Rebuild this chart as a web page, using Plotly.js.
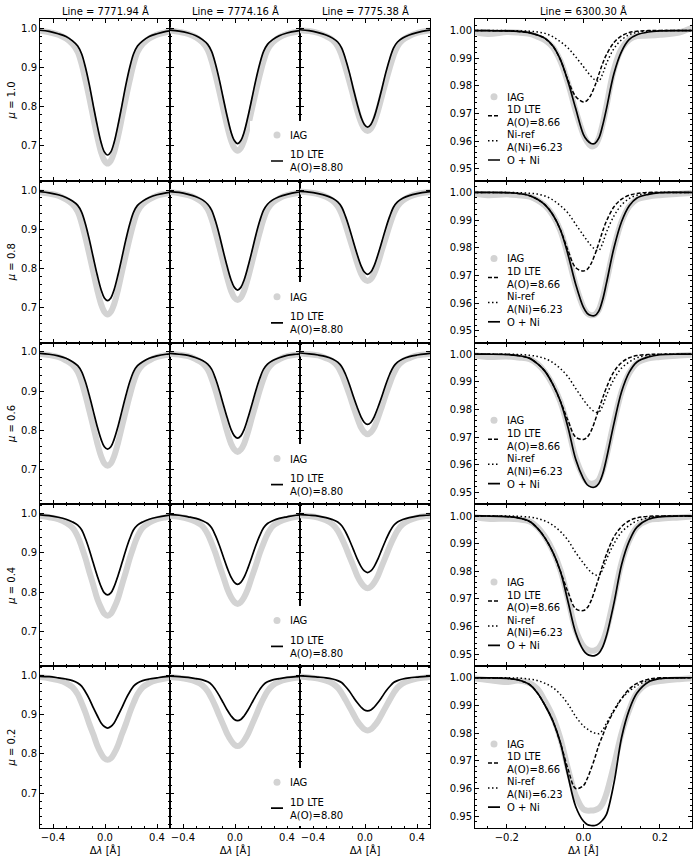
<!DOCTYPE html>
<html><head><meta charset="utf-8">
<script src="https://cdn.plot.ly/plotly-3.0.1.min.js"></script>
<style>html,body{margin:0;padding:0;background:#fff}</style>
</head><body><div id="plot" style="width:699px;height:864px"></div>
<script>
// ---------- labels ----------
const lineLabels = ['Line = 7771.94 Å', 'Line = 7774.16 Å', 'Line = 7775.38 Å', 'Line = 6300.30 Å'];
const muLabels = ['1.0', '0.8', '0.6', '0.4', '0.2'];
const xTitle = 'Δ<i>λ</i> [Å]';
const nameIAG = 'IAG';
const nameLTE88 = '1D LTE<br>A(O)=8.80';
const nameLTE866 = '1D LTE<br>A(O)=8.66';
const nameNi = 'Ni-ref<br>A(Ni)=6.23';
const nameSum = 'O + Ni';

// ---------- wavelength grids ----------
const dlamLeft = [-0.53,-0.43,-0.36,-0.30,-0.25,-0.21,-0.18,-0.15,-0.12,-0.09,-0.06,-0.03,-0.005,0.02,0.045,0.07,0.10,0.13,0.16,0.19,0.22,0.25,0.29,0.34,0.40,0.47,0.57];
const dlamRight = [-0.30,-0.25,-0.20,-0.17,-0.14,-0.12,-0.10,-0.08,-0.06,-0.04,-0.02,0.0,0.01,0.02,0.03,0.04,0.05,0.06,0.08,0.10,0.12,0.14,0.17,0.20,0.25,0.30];

// ---------- 1D LTE A(O)=8.80, O I triplet ----------
const lte_mu10_7771 = [0.996,0.992,0.986,0.979,0.968,0.955,0.935,0.900,0.855,0.803,0.753,0.709,0.685,0.677,0.685,0.709,0.753,0.803,0.855,0.900,0.935,0.955,0.968,0.979,0.986,0.992,0.996];
const lte_mu10_7774 = [0.996,0.993,0.988,0.981,0.971,0.959,0.941,0.909,0.868,0.821,0.775,0.735,0.714,0.706,0.714,0.735,0.775,0.821,0.868,0.909,0.941,0.959,0.971,0.981,0.988,0.993,0.996];
const lte_mu10_7775 = [0.997,0.994,0.989,0.983,0.975,0.965,0.950,0.922,0.887,0.846,0.807,0.773,0.755,0.748,0.755,0.773,0.807,0.846,0.887,0.922,0.950,0.965,0.975,0.983,0.989,0.994,0.997];
const lte_mu08_7771 = [0.997,0.993,0.988,0.981,0.972,0.961,0.944,0.913,0.873,0.828,0.784,0.746,0.725,0.718,0.725,0.746,0.784,0.828,0.873,0.913,0.944,0.961,0.972,0.981,0.988,0.993,0.997];
const lte_mu08_7774 = [0.997,0.994,0.989,0.983,0.975,0.964,0.949,0.921,0.885,0.844,0.805,0.771,0.752,0.745,0.752,0.771,0.805,0.844,0.885,0.921,0.949,0.964,0.975,0.983,0.989,0.994,0.997];
const lte_mu08_7775 = [0.997,0.995,0.991,0.986,0.979,0.970,0.957,0.933,0.903,0.869,0.836,0.807,0.791,0.785,0.791,0.807,0.836,0.869,0.903,0.933,0.957,0.970,0.979,0.986,0.991,0.995,0.997];
const lte_mu06_7771 = [0.997,0.994,0.990,0.984,0.975,0.965,0.950,0.923,0.888,0.849,0.810,0.777,0.758,0.752,0.758,0.777,0.810,0.849,0.888,0.923,0.950,0.965,0.975,0.984,0.990,0.994,0.997];
const lte_mu06_7774 = [0.997,0.994,0.991,0.985,0.978,0.969,0.956,0.932,0.901,0.866,0.832,0.802,0.786,0.780,0.786,0.802,0.832,0.866,0.901,0.932,0.956,0.969,0.978,0.985,0.991,0.994,0.997];
const lte_mu06_7775 = [0.998,0.995,0.992,0.988,0.982,0.974,0.963,0.943,0.917,0.887,0.859,0.834,0.820,0.815,0.820,0.834,0.859,0.887,0.917,0.943,0.963,0.974,0.982,0.988,0.992,0.995,0.998];
const lte_mu04_7771 = [0.998,0.995,0.991,0.986,0.979,0.971,0.959,0.936,0.907,0.874,0.842,0.814,0.798,0.793,0.798,0.814,0.842,0.874,0.907,0.936,0.959,0.971,0.979,0.986,0.991,0.995,0.998];
const lte_mu04_7774 = [0.998,0.996,0.992,0.988,0.982,0.975,0.964,0.944,0.919,0.890,0.862,0.838,0.825,0.820,0.825,0.838,0.862,0.890,0.919,0.944,0.964,0.975,0.982,0.988,0.992,0.996,0.998];
const lte_mu04_7775 = [0.998,0.996,0.994,0.990,0.985,0.979,0.970,0.954,0.933,0.909,0.885,0.865,0.854,0.850,0.854,0.865,0.885,0.909,0.933,0.954,0.970,0.979,0.985,0.990,0.994,0.996,0.998];
const lte_mu02_7771 = [0.998,0.997,0.994,0.991,0.987,0.981,0.973,0.958,0.940,0.918,0.898,0.879,0.870,0.866,0.870,0.879,0.898,0.918,0.940,0.958,0.973,0.981,0.987,0.991,0.994,0.997,0.998];
const lte_mu02_7774 = [0.999,0.997,0.995,0.992,0.989,0.984,0.977,0.964,0.948,0.930,0.912,0.897,0.888,0.885,0.888,0.897,0.912,0.930,0.948,0.964,0.977,0.984,0.989,0.992,0.995,0.997,0.999];
const lte_mu02_7775 = [0.999,0.998,0.996,0.994,0.991,0.987,0.982,0.972,0.960,0.945,0.931,0.919,0.912,0.910,0.912,0.919,0.931,0.945,0.960,0.972,0.982,0.987,0.991,0.994,0.996,0.998,0.999];

// ---------- IAG observed, O I triplet ----------
const iag_mu10_7771 = [0.995,0.990,0.984,0.974,0.960,0.940,0.909,0.867,0.821,0.772,0.724,0.684,0.663,0.655,0.663,0.684,0.724,0.772,0.821,0.867,0.909,0.940,0.960,0.974,0.984,0.990,0.995];
const iag_mu10_7774 = [0.996,0.991,0.986,0.977,0.964,0.945,0.917,0.880,0.838,0.794,0.750,0.714,0.695,0.688,0.695,0.714,0.750,0.794,0.838,0.880,0.917,0.945,0.964,0.977,0.986,0.991,0.996];
const iag_mu10_7775 = [0.996,0.993,0.988,0.980,0.970,0.954,0.931,0.899,0.864,0.827,0.790,0.760,0.744,0.738,0.744,0.760,0.790,0.827,0.864,0.899,0.931,0.954,0.970,0.980,0.988,0.993,0.996];
const iag_mu08_7771 = [0.996,0.991,0.986,0.976,0.964,0.945,0.916,0.878,0.835,0.791,0.746,0.709,0.690,0.683,0.690,0.709,0.746,0.791,0.835,0.878,0.916,0.945,0.964,0.976,0.986,0.991,0.996];
const iag_mu08_7774 = [0.996,0.992,0.987,0.979,0.968,0.951,0.926,0.892,0.854,0.815,0.776,0.743,0.726,0.720,0.726,0.743,0.776,0.815,0.854,0.892,0.926,0.951,0.968,0.979,0.987,0.992,0.996];
const iag_mu08_7775 = [0.997,0.994,0.990,0.983,0.973,0.959,0.939,0.911,0.879,0.847,0.814,0.787,0.773,0.768,0.773,0.787,0.814,0.847,0.879,0.911,0.939,0.959,0.973,0.983,0.990,0.994,0.997];
const iag_mu06_7771 = [0.996,0.992,0.987,0.978,0.967,0.949,0.923,0.888,0.849,0.809,0.768,0.734,0.716,0.710,0.716,0.734,0.768,0.809,0.849,0.888,0.923,0.949,0.967,0.978,0.987,0.992,0.996];
const iag_mu06_7774 = [0.996,0.993,0.989,0.981,0.971,0.955,0.932,0.902,0.867,0.832,0.796,0.766,0.751,0.745,0.751,0.766,0.796,0.832,0.867,0.902,0.932,0.955,0.971,0.981,0.989,0.993,0.996];
const iag_mu06_7775 = [0.997,0.994,0.991,0.984,0.976,0.963,0.944,0.919,0.891,0.861,0.832,0.807,0.795,0.790,0.795,0.807,0.832,0.861,0.891,0.919,0.944,0.963,0.976,0.984,0.991,0.994,0.997];
const iag_mu04_7771 = [0.996,0.991,0.986,0.977,0.964,0.942,0.916,0.886,0.851,0.818,0.784,0.760,0.745,0.740,0.745,0.760,0.784,0.818,0.851,0.886,0.916,0.942,0.964,0.977,0.986,0.991,0.996];
const iag_mu04_7774 = [0.996,0.992,0.987,0.979,0.968,0.948,0.925,0.899,0.868,0.839,0.809,0.787,0.775,0.770,0.775,0.787,0.809,0.839,0.868,0.899,0.925,0.948,0.968,0.979,0.987,0.992,0.996];
const iag_mu04_7775 = [0.997,0.994,0.990,0.983,0.973,0.957,0.938,0.916,0.891,0.867,0.842,0.824,0.814,0.810,0.814,0.824,0.842,0.867,0.891,0.916,0.938,0.957,0.973,0.983,0.990,0.994,0.997];
const iag_mu02_7771 = [0.997,0.993,0.988,0.981,0.970,0.952,0.930,0.905,0.876,0.850,0.822,0.801,0.789,0.785,0.789,0.801,0.822,0.850,0.876,0.905,0.930,0.952,0.970,0.981,0.988,0.993,0.997];
const iag_mu02_7774 = [0.997,0.994,0.990,0.984,0.975,0.960,0.942,0.921,0.897,0.874,0.851,0.834,0.824,0.820,0.824,0.834,0.851,0.874,0.897,0.921,0.942,0.960,0.975,0.984,0.990,0.994,0.997];
const iag_mu02_7775 = [0.998,0.995,0.992,0.987,0.980,0.969,0.955,0.938,0.920,0.902,0.884,0.871,0.863,0.860,0.863,0.871,0.884,0.902,0.920,0.938,0.955,0.969,0.980,0.987,0.992,0.995,0.998];

// ---------- [O I] 6300.30 ----------
const iag_mu10_6300 = [1.0,0.9988,0.9995,0.9993,0.9988,0.9978,0.9965,0.994,0.989,0.981,0.971,0.9625,0.9598,0.9582,0.9585,0.961,0.966,0.9725,0.986,0.9935,0.9968,0.998,0.9982,0.9985,0.9993,1.002];
const iag_mu08_6300 = [1.0,0.999,0.9993,0.999,0.9985,0.9972,0.9952,0.9918,0.9862,0.977,0.9665,0.9585,0.9563,0.9556,0.9558,0.9575,0.9615,0.9675,0.980,0.9895,0.995,0.9975,0.9985,0.999,0.9995,1.0];
const iag_mu06_6300 = [1.0,0.999,0.9992,0.9988,0.9982,0.9965,0.9935,0.989,0.9828,0.9735,0.9625,0.9558,0.9538,0.9532,0.9534,0.9545,0.9578,0.963,0.9755,0.9865,0.9932,0.9968,0.9985,0.999,0.9995,1.0];
const iag_mu04_6300 = [1.0,0.999,0.999,0.9988,0.998,0.996,0.9925,0.9875,0.9805,0.970,0.9588,0.953,0.9518,0.9513,0.9514,0.9522,0.9545,0.9585,0.9705,0.9832,0.9912,0.996,0.9985,0.999,0.9995,1.0];
const iag_mu02_6300 = [1.0,0.9992,0.9985,0.999,0.998,0.996,0.9915,0.986,0.978,0.967,0.9575,0.9525,0.952,0.952,0.9522,0.9528,0.9545,0.958,0.9685,0.980,0.9885,0.9945,0.998,0.9988,0.9995,1.0];

const oxy_mu10_6300 = [1.0,1.0,0.9999,0.9997,0.9992,0.9984,0.9972,0.9945,0.9895,0.982,0.9762,0.9742,0.9748,0.9768,0.980,0.984,0.988,0.9912,0.9957,0.9981,0.9993,0.9998,1.0,1.0,1.0,1.0];
const oxy_mu08_6300 = [1.0,1.0,0.9999,0.9996,0.9988,0.9975,0.9955,0.992,0.9865,0.979,0.9728,0.9716,0.9722,0.9742,0.9775,0.9815,0.9858,0.9895,0.9948,0.9976,0.999,0.9996,1.0,1.0,1.0,1.0];
const oxy_mu06_6300 = [1.0,1.0,0.9999,0.9995,0.9985,0.9966,0.9938,0.9892,0.983,0.976,0.970,0.9692,0.970,0.9722,0.9758,0.980,0.984,0.9878,0.9937,0.997,0.9987,0.9995,0.9999,1.0,1.0,1.0];
const oxy_mu04_6300 = [1.0,1.0,0.9998,0.9993,0.998,0.9956,0.992,0.987,0.980,0.9725,0.9665,0.9658,0.9668,0.9693,0.9732,0.9775,0.982,0.986,0.9925,0.9962,0.9983,0.9993,0.9999,1.0,1.0,1.0];
const oxy_mu02_6300 = [1.0,1.0,0.9998,0.9992,0.9975,0.9945,0.990,0.9845,0.9765,0.967,0.960,0.961,0.9635,0.967,0.971,0.9755,0.979,0.9825,0.988,0.9925,0.996,0.998,0.9995,1.0,1.0,1.0];

const ni_mu10_6300 = [1.0,1.0,1.0,0.9999,0.9998,0.9995,0.999,0.9978,0.996,0.9937,0.9905,0.987,0.9852,0.9835,0.9822,0.9817,0.9842,0.988,0.9935,0.9967,0.9985,0.9994,0.9998,1.0,1.0,1.0];
const ni_mu08_6300 = [1.0,1.0,1.0,0.9999,0.9997,0.9994,0.9987,0.9973,0.9952,0.9925,0.9885,0.9845,0.9826,0.9808,0.9795,0.979,0.9815,0.9855,0.9915,0.9955,0.9978,0.999,0.9997,1.0,1.0,1.0];
const ni_mu06_6300 = [1.0,1.0,1.0,0.9999,0.9996,0.9992,0.9984,0.997,0.9948,0.9918,0.9876,0.9836,0.9817,0.9802,0.9792,0.979,0.9812,0.985,0.991,0.995,0.9972,0.9987,0.9996,1.0,1.0,1.0];
const ni_mu04_6300 = [1.0,1.0,1.0,0.9999,0.9996,0.9991,0.9982,0.9967,0.9944,0.9912,0.9868,0.983,0.9812,0.9797,0.9788,0.9785,0.9805,0.9842,0.990,0.9942,0.9966,0.9982,0.9994,0.9999,1.0,1.0];
const ni_mu02_6300 = [1.0,1.0,1.0,0.9999,0.9995,0.999,0.998,0.9965,0.994,0.9905,0.986,0.9826,0.9815,0.9806,0.980,0.9798,0.981,0.9835,0.9885,0.9925,0.9952,0.9972,0.999,0.9997,1.0,1.0];

const sum_mu10_6300 = [1.0,1.0,0.9999,0.9997,0.9992,0.9984,0.9972,0.9945,0.9895,0.9815,0.9718,0.9625,0.9603,0.9592,0.9592,0.961,0.9655,0.9715,0.9845,0.9925,0.9968,0.9985,0.9995,0.9999,1.0,1.0];
const sum_mu08_6300 = [1.0,1.0,0.9999,0.9996,0.9988,0.9975,0.9955,0.992,0.9865,0.9775,0.9668,0.9585,0.9563,0.9555,0.9555,0.957,0.961,0.967,0.980,0.9895,0.9952,0.998,0.9993,0.9999,1.0,1.0];
const sum_mu06_6300 = [1.0,1.0,0.9999,0.9995,0.9985,0.9966,0.9938,0.9892,0.983,0.9735,0.962,0.955,0.9528,0.952,0.952,0.9532,0.9565,0.962,0.975,0.9865,0.9935,0.9972,0.999,0.9998,1.0,1.0];
const sum_mu04_6300 = [1.0,1.0,0.9998,0.9993,0.998,0.9956,0.992,0.987,0.980,0.969,0.9578,0.9515,0.950,0.9495,0.9495,0.9503,0.9525,0.9565,0.9685,0.9825,0.991,0.996,0.9988,0.9997,1.0,1.0];
const sum_mu02_6300 = [1.0,1.0,0.9998,0.9992,0.9975,0.9945,0.990,0.9845,0.9765,0.9645,0.9535,0.9482,0.947,0.9466,0.9466,0.9472,0.9485,0.9505,0.962,0.9785,0.9885,0.9945,0.9985,0.9997,1.0,1.0];

// ---------- grouping ----------
const lteLeft = [
  [lte_mu10_7771, lte_mu10_7774, lte_mu10_7775],
  [lte_mu08_7771, lte_mu08_7774, lte_mu08_7775],
  [lte_mu06_7771, lte_mu06_7774, lte_mu06_7775],
  [lte_mu04_7771, lte_mu04_7774, lte_mu04_7775],
  [lte_mu02_7771, lte_mu02_7774, lte_mu02_7775]];
const iagLeft = [
  [iag_mu10_7771, iag_mu10_7774, iag_mu10_7775],
  [iag_mu08_7771, iag_mu08_7774, iag_mu08_7775],
  [iag_mu06_7771, iag_mu06_7774, iag_mu06_7775],
  [iag_mu04_7771, iag_mu04_7774, iag_mu04_7775],
  [iag_mu02_7771, iag_mu02_7774, iag_mu02_7775]];
const iagRight = [iag_mu10_6300, iag_mu08_6300, iag_mu06_6300, iag_mu04_6300, iag_mu02_6300];
const oxyRight = [oxy_mu10_6300, oxy_mu08_6300, oxy_mu06_6300, oxy_mu04_6300, oxy_mu02_6300];
const niRight = [ni_mu10_6300, ni_mu08_6300, ni_mu06_6300, ni_mu04_6300, ni_mu02_6300];
const sumRight = [sum_mu10_6300, sum_mu08_6300, sum_mu06_6300, sum_mu04_6300, sum_mu02_6300];

// ---------- layout geometry ----------
const W = 699, H = 864;
const colEdges = [[40, 170], [170, 300], [300, 430], [475, 691.7]];
const rowTop = 19, rowH = 161.8;
const FONT = '"DejaVu Sans", "Liberation Sans", sans-serif';
const GRAY = '#d3d3d3';

const traces = [];
const layout = {
  width: W, height: H,
  margin: {l: 0, r: 0, t: 0, b: 0},
  paper_bgcolor: '#ffffff', plot_bgcolor: '#ffffff',
  font: {family: FONT, size: 10, color: '#000'},
  showlegend: true,
  annotations: []
};

function axName(k, a) { return k === 1 ? a + 'axis' : a + 'axis' + k; }
function axRef(k, a) { return k === 1 ? a : a + k; }
function legName(i) { return i === 1 ? 'legend' : 'legend' + i; }

for (let r = 0; r < 5; r++) {
  const yTop = rowTop + r * rowH, yBot = yTop + rowH;
  for (let c = 0; c < 4; c++) {
    const k = r * 4 + c + 1;
    const right = (c === 3);
    const xa = {
      domain: [colEdges[c][0] / W, colEdges[c][1] / W],
      anchor: axRef(k, 'y'),
      range: right ? [-0.283, 0.283] : [-0.5, 0.5],
      tick0: 0, dtick: right ? 0.2 : 0.4, tickformat: '.1f',
      ticks: 'inside', ticklen: 4, tickwidth: 1, tickcolor: '#000',
      minor: {ticks: 'inside', ticklen: 2, tickwidth: 1, tickcolor: '#000', dtick: right ? 0.05 : 0.1, tick0: 0},
      showline: true, linecolor: '#000', linewidth: 1, mirror: 'allticks',
      showgrid: false, zeroline: false,
      showticklabels: r === 4,
      tickfont: {family: FONT, size: 10, color: '#000'}
    };
    if (r === 4) xa.title = {text: xTitle, font: {family: FONT, size: 10, color: '#000'}, standoff: 4};
    const ya = {
      domain: [1 - yBot / H, 1 - yTop / H],
      anchor: axRef(k, 'x'),
      range: right ? [0.9457, 1.0042] : [0.6112, 1.0237],
      tick0: 0, dtick: right ? 0.01 : 0.1, tickformat: right ? '.2f' : '.1f',
      ticks: 'inside', ticklen: 4, tickwidth: 1, tickcolor: '#000',
      minor: {ticks: 'inside', ticklen: 2, tickwidth: 1, tickcolor: '#000', dtick: right ? 0.002 : 0.02, tick0: 0},
      showline: true, linecolor: '#000', linewidth: 1, mirror: 'allticks',
      showgrid: false, zeroline: false,
      showticklabels: (c === 0 || c === 3),
      tickfont: {family: FONT, size: 10, color: '#000'}
    };
    if (c === 0) ya.title = {text: '<i>μ</i> = ' + muLabels[r], font: {family: FONT, size: 10, color: '#000'}, standoff: 3};
    layout[axName(k, 'x')] = xa;
    layout[axName(k, 'y')] = ya;

    const xr = axRef(k, 'x'), yr = axRef(k, 'y');
    if (!right) {
      const leg = legName(1 + r);
      traces.push({x: dlamLeft, y: iagLeft[r][c], xaxis: xr, yaxis: yr, mode: 'lines',
        line: {color: GRAY, width: 6, shape: 'spline'}, showlegend: false, hoverinfo: 'skip'});
      if (c === 2) {
        traces.push({x: [null], y: [null], xaxis: xr, yaxis: yr, mode: 'markers', name: nameIAG,
          marker: {color: GRAY, size: 7}, legend: leg, showlegend: true});
      }
      traces.push({x: dlamLeft, y: lteLeft[r][c], xaxis: xr, yaxis: yr, mode: 'lines', name: nameLTE88,
        line: {color: '#000', width: 1.7, shape: 'spline'}, legend: leg, showlegend: c === 2});
    } else {
      const leg = legName(6 + r);
      traces.push({x: dlamRight, y: iagRight[r], xaxis: xr, yaxis: yr, mode: 'lines',
        line: {color: GRAY, width: 6, shape: 'spline'}, showlegend: false, hoverinfo: 'skip'});
      traces.push({x: [null], y: [null], xaxis: xr, yaxis: yr, mode: 'markers', name: nameIAG,
        marker: {color: GRAY, size: 7}, legend: leg, showlegend: true});
      traces.push({x: dlamRight, y: oxyRight[r], xaxis: xr, yaxis: yr, mode: 'lines', name: nameLTE866,
        line: {color: '#000', width: 1.5, dash: '4px,2px', shape: 'spline'}, legend: leg});
      traces.push({x: dlamRight, y: niRight[r], xaxis: xr, yaxis: yr, mode: 'lines', name: nameNi,
        line: {color: '#000', width: 1.5, dash: '1.5px,2.5px', shape: 'spline'}, legend: leg});
      traces.push({x: dlamRight, y: sumRight[r], xaxis: xr, yaxis: yr, mode: 'lines', name: nameSum,
        line: {color: '#000', width: 1.7, shape: 'spline'}, legend: leg});
    }
  }
  layout[legName(1 + r)] = {x: 250 / W, y: 1 - (120.5 + r * rowH) / H, xanchor: 'left', yanchor: 'top',
    bgcolor: '#ffffff', borderwidth: 0, font: {family: FONT, size: 10, color: '#000'},
    tracegroupgap: 0, itemclick: false, itemdoubleclick: false};
  layout[legName(6 + r)] = {x: 467 / W, y: 1 - (82.2 + r * rowH) / H, xanchor: 'left', yanchor: 'top',
    bgcolor: 'rgba(0,0,0,0)', borderwidth: 0, font: {family: FONT, size: 10, color: '#000'},
    tracegroupgap: 0, itemclick: false, itemdoubleclick: false};
}

for (let c = 0; c < 4; c++) {
  layout.annotations.push({text: lineLabels[c], xref: 'paper', yref: 'paper',
    x: (colEdges[c][0] + colEdges[c][1]) / 2 / W, y: 1 - 11 / H, xanchor: 'center', yanchor: 'middle',
    showarrow: false, font: {family: FONT, size: 10, color: '#000'}});
}

// compact legend entries (matplotlib-like spacing and short handles)
const legendOffsetsLeft = [0, 26];
const legendOffsetsRight = [0, 19, 44, 63.3];
function compactLegends(gd) {
  for (let i = 1; i <= 10; i++) {
    const lg = gd.querySelector('g.' + legName(i));
    if (!lg) continue;
    const offs = i <= 5 ? legendOffsetsLeft : legendOffsetsRight;
    let y0 = null;
    lg.querySelectorAll('g.traces').forEach(function (it, j) {
      const m = /translate\(\s*([-\d.e]+)[ ,]+([-\d.e]+)\s*\)/.exec(it.getAttribute('transform') || '');
      if (!m) return;
      const x = parseFloat(m[1]), y = parseFloat(m[2]);
      if (y0 === null) y0 = y;
      if (offs[j] !== undefined) it.setAttribute('transform', 'translate(' + x + ',' + (y0 + offs[j]) + ')');
    });
    lg.querySelectorAll('g.legendlines path').forEach(function (p) { p.setAttribute('d', 'M21,0h12'); });
    lg.querySelectorAll('g.legendpoints path.scatterpts').forEach(function (p) { p.setAttribute('transform', 'translate(27,0)'); });
  }
}

Plotly.newPlot('plot', traces, layout, {staticPlot: true, displayModeBar: false}).then(compactLegends);
</script></body></html>
